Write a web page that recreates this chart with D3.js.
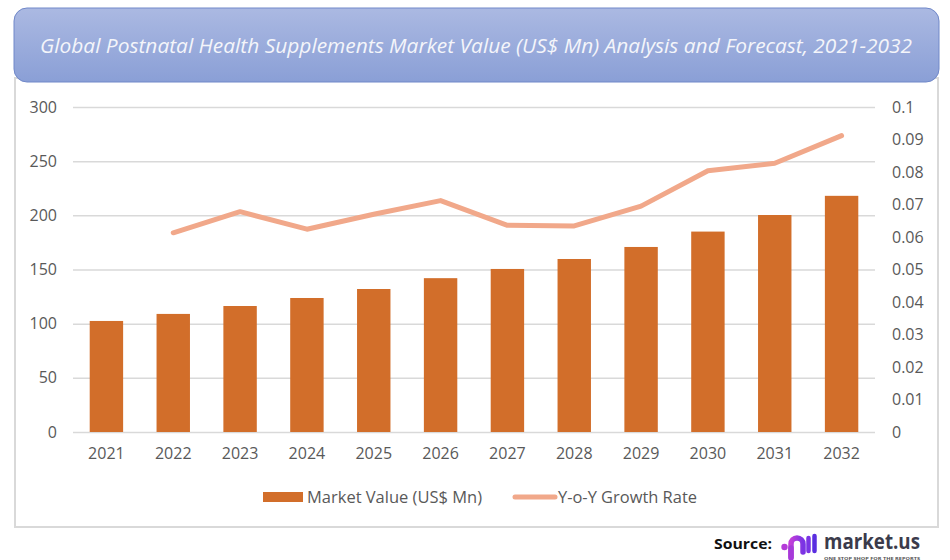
<!DOCTYPE html>
<html>
<head>
<meta charset="utf-8">
<script src="https://cdn.jsdelivr.net/npm/d3@7"></script>
<style>
  body { margin: 0; background: #fff; }
  text { font-family: "Open Sans", "Noto Sans", sans-serif; }
</style>
</head>
<body>
<div id="chart"></div>
<script>
// chart data
let years = ["2021", "2022", "2023", "2024", "2025", "2026", "2027", "2028", "2029", "2030", "2031", "2032"];
let marketValue = [102.5, 109, 116.3, 123.7, 132, 142, 150.5, 159.7, 170.8, 185, 200.3, 218];
let growthRate = [null, 0.0613, 0.0678, 0.0624, 0.067, 0.0712, 0.0636, 0.0634, 0.0695, 0.0804, 0.0827, 0.0912];
let leftTicks = [0, 50, 100, 150, 200, 250, 300];
let rightTicks = [0, 0.01, 0.02, 0.03, 0.04, 0.05, 0.06, 0.07, 0.08, 0.09, 0.1];

let titleText = "Global Postnatal Health Supplements Market Value (US$ Mn) Analysis and Forecast, 2021-2032";

// svg dimensions
let svgWidth = 950,
  svgHeight = 560;

let svg = d3
  .select("#chart")
  .append("svg")
  .attr("width", svgWidth)
  .attr("height", svgHeight);

let defs = svg.append("defs");

// title box gradient
let titleGrad = defs.append("linearGradient")
  .attr("id", "titleGrad")
  .attr("x1", 0).attr("y1", 0).attr("x2", 0).attr("y2", 1);
titleGrad.append("stop").attr("offset", "0%").attr("stop-color", "#abb9e2");
titleGrad.append("stop").attr("offset", "100%").attr("stop-color", "#8a9fd6");

// logo gradient
let logoGrad = defs.append("linearGradient")
  .attr("id", "logoGrad")
  .attr("x1", 0).attr("y1", 0).attr("x2", 1).attr("y2", 0);
logoGrad.append("stop").attr("offset", "0%").attr("stop-color", "#c23fd9");
logoGrad.append("stop").attr("offset", "100%").attr("stop-color", "#7a34e4");

// chart area frame
svg.append("rect")
  .attr("x", 15)
  .attr("y", 78)
  .attr("width", 923)
  .attr("height", 449)
  .attr("fill", "#fff")
  .attr("stroke", "#d9d9d9")
  .attr("stroke-width", 2);

// title box
svg.append("rect")
  .attr("x", 14)
  .attr("y", 8)
  .attr("width", 925)
  .attr("height", 74)
  .attr("rx", 13)
  .attr("fill", "url(#titleGrad)")
  .attr("stroke", "#7088c9")
  .attr("stroke-width", 1);

svg.append("text")
  .attr("x", 476)
  .attr("y", 48)
  .attr("text-anchor", "middle")
  .attr("dominant-baseline", "middle")
  .attr("font-size", 20)
  .attr("font-style", "italic")
  .attr("fill", "#f4f5fa")
  .attr("textLength", 872)
  .attr("lengthAdjust", "spacingAndGlyphs")
  .text(titleText);

// plot margins
let plot = { left: 73, right: 875, top: 107, bottom: 432 };

let xScale = d3.scaleBand()
  .domain(years)
  .range([plot.left, plot.right])
  .paddingInner(0.5)
  .paddingOuter(0.25);

let yLeft = d3.scaleLinear()
  .domain([0, 300])
  .range([plot.bottom, plot.top]);

let yRight = d3.scaleLinear()
  .domain([0, 0.1])
  .range([plot.bottom, plot.top]);

// gridlines
let gridGroup = svg.append("g")
  .attr("transform", `translate(${plot.left}, 0)`)
  .call(d3.axisLeft(yLeft).tickValues(leftTicks).tickSize(-(plot.right - plot.left)).tickFormat(""));
gridGroup.select(".domain").remove();
gridGroup.selectAll("line").attr("stroke", "#d9d9d9").attr("stroke-width", 1.5);

// left axis labels
let leftAxis = svg.append("g")
  .attr("transform", `translate(${plot.left}, 0)`)
  .call(d3.axisLeft(yLeft).tickValues(leftTicks).tickSize(0).tickPadding(16));
leftAxis.select(".domain").remove();
leftAxis.selectAll("text")
  .attr("font-size", 16)
  .attr("fill", "#595959")
  .style("font-family", "'Open Sans', sans-serif");

// right axis labels
let rightAxis = svg.append("g")
  .attr("transform", `translate(${plot.right}, 0)`)
  .call(d3.axisRight(yRight).tickValues(rightTicks).tickSize(0).tickPadding(17).tickFormat((d) => d3.format("")(+d.toFixed(2))));
rightAxis.select(".domain").remove();
rightAxis.selectAll("text")
  .attr("font-size", 16)
  .attr("fill", "#595959")
  .style("font-family", "'Open Sans', sans-serif");

// bottom axis labels
let bottomAxis = svg.append("g")
  .attr("transform", `translate(0, ${plot.bottom})`)
  .call(d3.axisBottom(xScale).tickSize(0).tickPadding(16));
bottomAxis.select(".domain").remove();
bottomAxis.selectAll("text")
  .attr("font-size", 16)
  .attr("fill", "#595959")
  .style("font-family", "'Open Sans', sans-serif");

// bars
svg.selectAll(".bar")
  .data(years)
  .enter()
  .append("rect")
  .classed("bar", true)
  .attr("x", (d) => xScale(d))
  .attr("y", (d, i) => yLeft(marketValue[i]))
  .attr("width", xScale.bandwidth())
  .attr("height", (d, i) => plot.bottom - yLeft(marketValue[i]))
  .attr("fill", "#d26e2a");

// growth line
let line = d3.line()
  .defined((d, i) => growthRate[i] !== null)
  .x((d) => xScale(d) + xScale.bandwidth() / 2)
  .y((d, i) => yRight(growthRate[i]));

svg.append("path")
  .datum(years)
  .attr("d", line)
  .attr("fill", "none")
  .attr("stroke", "#f1a88a")
  .attr("stroke-width", 5)
  .attr("stroke-linecap", "round")
  .attr("stroke-linejoin", "round");

// legend
let legend = svg.append("g");
legend.append("rect")
  .attr("x", 263)
  .attr("y", 492)
  .attr("width", 40)
  .attr("height", 10)
  .attr("fill", "#d26e2a");
legend.append("text")
  .attr("x", 307)
  .attr("y", 497)
  .attr("dominant-baseline", "central")
  .attr("font-size", 16)
  .attr("fill", "#595959")
  .attr("textLength", 175)
  .attr("lengthAdjust", "spacingAndGlyphs")
  .text("Market Value (US$ Mn)");

legend.append("line")
  .attr("x1", 515)
  .attr("x2", 555)
  .attr("y1", 497)
  .attr("y2", 497)
  .attr("stroke", "#f1a88a")
  .attr("stroke-width", 5)
  .attr("stroke-linecap", "round");
legend.append("text")
  .attr("x", 558)
  .attr("y", 497)
  .attr("dominant-baseline", "central")
  .attr("font-size", 16)
  .attr("fill", "#595959")
  .attr("textLength", 139)
  .attr("lengthAdjust", "spacingAndGlyphs")
  .text("Y-o-Y Growth Rate");

// source + logo
svg.append("text")
  .attr("x", 714)
  .attr("y", 543)
  .attr("dominant-baseline", "central")
  .attr("font-size", 15)
  .attr("font-weight", "bold")
  .attr("fill", "#111")
  .attr("textLength", 58)
  .attr("lengthAdjust", "spacingAndGlyphs")
  .text("Source:");

let logo = svg.append("g").attr("transform", "translate(781, 533)");
logo.append("circle")
  .attr("cx", 3.5).attr("cy", 14).attr("r", 3.2)
  .attr("fill", "#b43bd8");
logo.append("path")
  .attr("d", "M10,24 L10,11 A6,6 0 0 1 22,11 L22,19")
  .attr("fill", "none")
  .attr("stroke", "url(#logoGrad)")
  .attr("stroke-width", 5.5)
  .attr("stroke-linecap", "round");
logo.append("path")
  .attr("d", "M10,15 L10,25")
  .attr("stroke", "#a63ad9")
  .attr("stroke-width", 5.5)
  .attr("stroke-linecap", "round");
logo.append("line")
  .attr("x1", 27.5).attr("x2", 27.5).attr("y1", 5).attr("y2", 18)
  .attr("stroke", "#7a34e4")
  .attr("stroke-width", 4.5)
  .attr("stroke-linecap", "round");
logo.append("line")
  .attr("x1", 33.5).attr("x2", 33.5).attr("y1", 3).attr("y2", 18)
  .attr("stroke", "#5a2ee0")
  .attr("stroke-width", 4.5)
  .attr("stroke-linecap", "round");

svg.append("text")
  .attr("x", 824)
  .attr("y", 549)
  .attr("font-size", 22)
  .attr("font-weight", "bold")
  .attr("fill", "#3b3b4b")
  .attr("textLength", 96)
  .attr("lengthAdjust", "spacingAndGlyphs")
  .text("market.us");

svg.append("text")
  .attr("x", 824)
  .attr("y", 559.5)
  .attr("font-size", 4)
  .attr("font-weight", "bold")
  .attr("fill", "#555")
  .attr("textLength", 96)
  .attr("lengthAdjust", "spacingAndGlyphs")
  .text("ONE STOP SHOP FOR THE REPORTS");
</script>
</body>
</html>
